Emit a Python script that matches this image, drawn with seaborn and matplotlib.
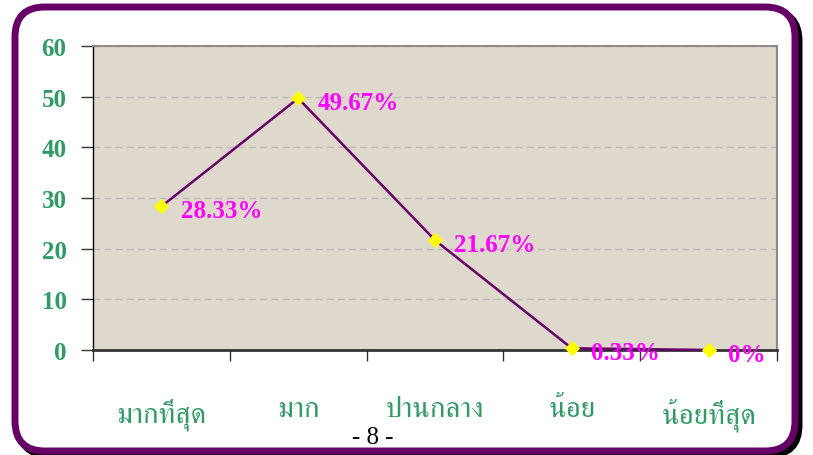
import matplotlib
matplotlib.use("Agg")
import matplotlib.pyplot as plt
import seaborn as sns
from matplotlib.patches import FancyBboxPatch
from matplotlib.transforms import IdentityTransform
from matplotlib.ticker import FixedLocator

categories = ["มากที่สุด", "มาก", "ปานกลาง", "น้อย", "น้อยที่สุด"]
values = [28.33, 49.67, 21.67, 0.33, 0]
labels = ["28.33%", "49.67%", "21.67%", "0.33%", "0%"]
yticks = [0, 10, 20, 30, 40, 50, 60]

green = "#339966"
purple = "#660066"
magenta = "#FF00FF"

sns.set_style("white")
fig = plt.figure(figsize=(8.13, 4.56), dpi=100)
ax = fig.add_axes([0.1144, 0.2303, 0.8413, 0.6667])

# rounded page border with shadow (pixel coords)
shadow = FancyBboxPatch((19, 0), 780, 444, boxstyle="round,pad=0,rounding_size=30",
                        transform=IdentityTransform(), fill=False, ec="black", lw=5, zorder=0)
border = FancyBboxPatch((15, 4), 780, 444, boxstyle="round,pad=0,rounding_size=30",
                        transform=IdentityTransform(), fc="white", ec=purple, lw=5, zorder=1)
fig.patches.append(shadow)
fig.patches.append(border)

ax.set_facecolor("#DFD8CC")
ax.set_zorder(2)

sns.lineplot(x=categories, y=values, sort=False, ax=ax, color=purple, lw=1.8,
             marker="D", markersize=7, markerfacecolor="#FFFF00", markeredgecolor="#FFFF00",
             clip_on=False, zorder=4)

for i, (v, t) in enumerate(zip(values, labels)):
    ax.annotate(t, (i, v), xytext=(14, -3), textcoords="offset points", ha="left", va="center",
                color=magenta, fontsize=18, fontweight="bold", family="Liberation Serif",
                annotation_clip=False, zorder=5)

ax.set_xlim(-0.5, 4.5)
ax.set_ylim(0, 60)
ax.set_yticks(yticks)
ax.set_yticklabels([str(t) for t in yticks], color=green, fontsize=18, fontweight="bold",
                   family="Liberation Serif")
ax.tick_params(axis="y", length=9, width=1, color="#333333", pad=10, direction="out", left=True)

# boundary ticks as major, labels on minor ticks at the centres
ax.xaxis.set_major_locator(FixedLocator([-0.5, 0.5, 1.5, 2.5, 3.5, 4.5]))
ax.xaxis.set_minor_locator(FixedLocator(range(len(categories))))
ax.set_xticklabels([""] * 6)
ax.set_xticklabels(categories, minor=True, color=green, fontsize=21, family=["FreeSerif", "DejaVu Sans"])
ax.tick_params(axis="x", which="major", length=8, width=1, color="#333333", direction="out", bottom=True)
ax.tick_params(axis="x", which="minor", length=0, pad=34)

ax.yaxis.grid(True, ls=(0, (5, 3)), color="#BDBDBD", lw=1)
ax.set_axisbelow(True)
ax.set_xlabel("")
ax.set_ylabel("")

for s in ["top", "right"]:
    ax.spines[s].set_color("#8C8C8C")
    ax.spines[s].set_linewidth(1.5)
ax.spines["left"].set_color("black")
ax.spines["left"].set_linewidth(1)
ax.spines["bottom"].set_color("#333333")
ax.spines["bottom"].set_linewidth(2)

fig.text(373 / 813, 1 - 438 / 456, "- 8 -", ha="center", va="center", fontsize=18,
         family="Liberation Serif", color="black", zorder=3)

fig.savefig("out.png", dpi=100)
